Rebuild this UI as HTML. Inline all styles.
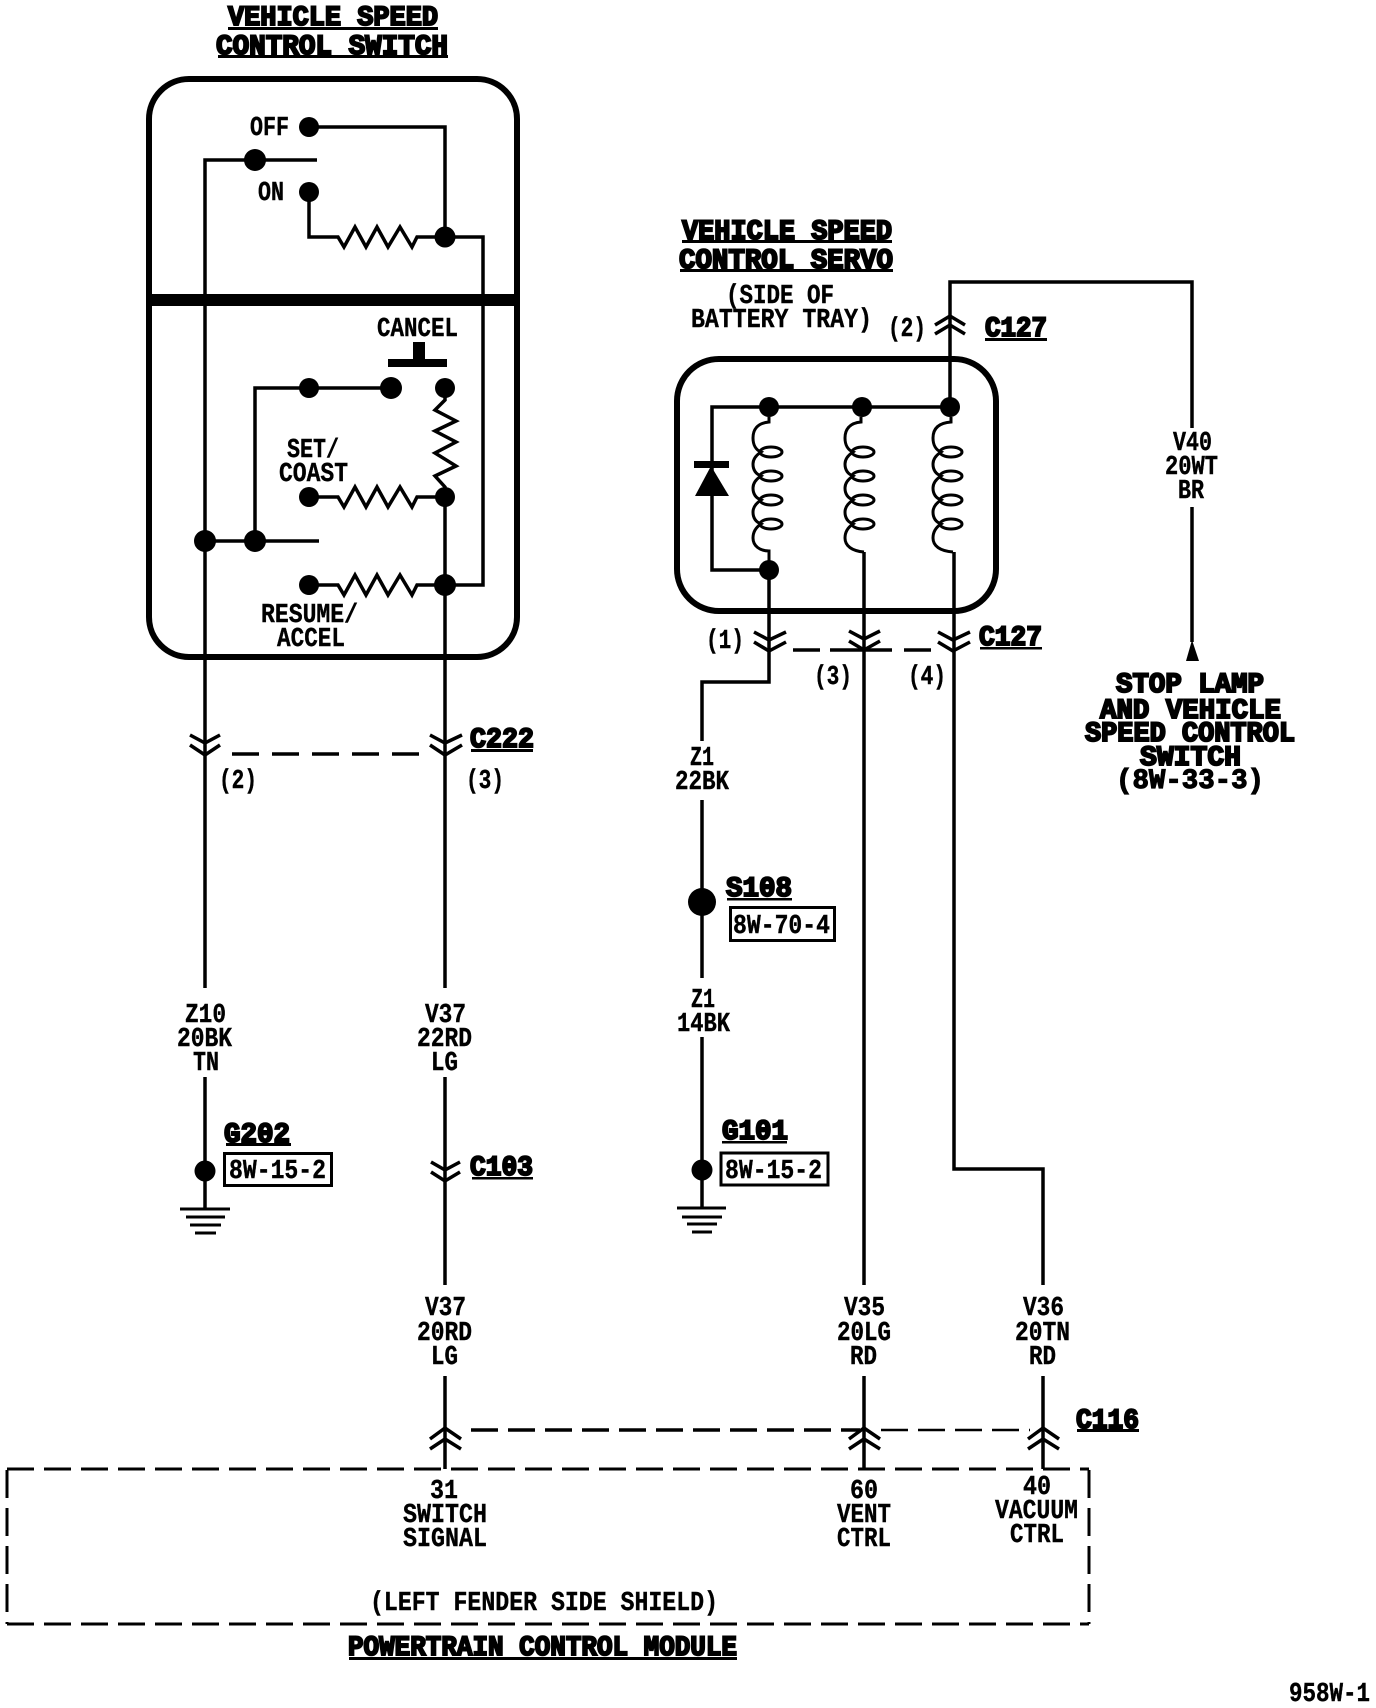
<!DOCTYPE html>
<html>
<head>
<meta charset="utf-8">
<style>
html,body{margin:0;padding:0;background:#fff}
svg{display:block}
.w{fill:none;stroke:#000;stroke-width:3.5;stroke-linejoin:miter}
.b{fill:none;stroke:#000;stroke-width:6}
.n{fill:#000}
text{font-family:"Liberation Mono","DejaVu Sans Mono",monospace;font-weight:bold;font-size:27px;fill:#000;stroke:#000;stroke-width:.4}
.h{font-size:28px;stroke-width:2}
</style>
</head>
<body>
<svg width="1376" height="1708" viewBox="0 0 1376 1708" xmlns="http://www.w3.org/2000/svg">
<rect width="1376" height="1708" fill="#fff"/>

<!-- switch box -->
<rect class="b" x="149" y="79" width="368" height="578" rx="40" ry="40"/>
<rect x="146" y="294" width="374" height="12" class="n"/>

<!-- switch wiring -->
<path class="w" d="M317 160H205V988"/>
<path class="w" d="M309 127H445V237"/>
<path class="w" d="M309 192V237H338L344 247L355 227L366 247L377 227L388 247L400 227L412 247L417 237H445H483V585H445"/>
<path class="w" d="M255 541V388H391"/>
<path class="w" d="M205 541H319"/>
<path class="w" d="M445 388V400L435 410L456 421L435 431L456 442L435 453L456 466L435 476L445 487V988"/>
<path class="w" d="M309 497H338L344 507L355 487L366 507L377 487L388 507L400 487L412 507L417 497H445"/>
<path class="w" d="M309 585H338L344 595L355 575L366 595L377 575L388 595L400 575L412 595L417 585H445"/>
<g class="n">
<circle cx="255" cy="160" r="11"/><circle cx="309" cy="127" r="10"/><circle cx="309" cy="192" r="10"/><circle cx="445" cy="237" r="10.500"/>
<circle cx="309" cy="388" r="10"/><circle cx="391" cy="388" r="11"/><circle cx="445" cy="388" r="10"/>
<circle cx="205" cy="541" r="11"/><circle cx="255" cy="541" r="11"/>
<circle cx="309" cy="497" r="10"/><circle cx="445" cy="497" r="10"/>
<circle cx="309" cy="585" r="10"/><circle cx="445" cy="585" r="11"/>
<rect x="413" y="342" width="12" height="18"/><rect x="388" y="359" width="59" height="8"/>
</g>

<!-- C222 -->
<path class="w" d="M190 735L205 743L220 735M190 745L205 755L220 745"/>
<path class="w" d="M430 735L445 743L462 735M430 745L445 755L462 745"/>
<path class="w" stroke-dasharray="27 13" d="M232 754H422"/>

<!-- left lower wires -->
<path class="w" d="M205 1077V1209"/>
<circle class="n" cx="205" cy="1171" r="10.500"/>
<path class="w" style="stroke-width:3" d="M180 1209H230M186 1217H225M190 1225H221M195 1233H216"/>
<path class="w" d="M445 1077V1285M445 1376V1469"/>
<path class="w" d="M431 1162L445 1170L460 1162M431 1172L445 1181L460 1172"/>
<rect x="224.500" y="1153.500" width="107" height="32" fill="none" stroke="#000" stroke-width="3"/>

<!-- servo box -->
<rect class="b" x="677" y="359" width="319" height="252" rx="42" ry="42"/>
<path class="w" d="M950 407H712V570H769"/>
<path class="w" d="M950 407V282H1192V428M1192 507V642"/>
<path class="n" d="M1192 640L1199 661H1186Z"/>
<g class="n">
<circle cx="769" cy="407" r="10"/><circle cx="862" cy="407" r="10"/><circle cx="950" cy="407" r="10"/><circle cx="769" cy="570" r="10"/>
<rect x="694" y="461" width="35" height="7"/><path d="M711 466L729 496H695Z"/>
</g>

<!-- coils -->
<g fill="none" stroke="#000" stroke-width="3">
<path d="M769 417V422C757 423 753 430 753 438C753 445 756 450 761 452C755 456 753 460 753 464C753 470 756 474 761 476C755 480 753 484 753 488C753 494 756 498 761 500C755 504 753 508 753 512C753 518 756 522 761 524C755 528 753 533 753 538C753 546 760 551 769 551V570"/>
<ellipse cx="771" cy="452" rx="11" ry="5"/><ellipse cx="771" cy="476" rx="11" ry="5"/><ellipse cx="771" cy="500" rx="11" ry="5"/><ellipse cx="771" cy="524" rx="11" ry="5"/>
</g>
<g fill="none" stroke="#000" stroke-width="3" transform="translate(92 0)">
<path d="M769 417V422C757 423 753 430 753 438C753 445 756 450 761 452C755 456 753 460 753 464C753 470 756 474 761 476C755 480 753 484 753 488C753 494 756 498 761 500C755 504 753 508 753 512C753 518 756 522 761 524C755 528 753 533 753 538C753 546 760 551 772 552"/>
<ellipse cx="771" cy="452" rx="11" ry="5"/><ellipse cx="771" cy="476" rx="11" ry="5"/><ellipse cx="771" cy="500" rx="11" ry="5"/><ellipse cx="771" cy="524" rx="11" ry="5"/>
</g>
<g fill="none" stroke="#000" stroke-width="3" transform="translate(180 0)">
<path d="M771 417V422C757 423 753 430 753 438C753 445 756 450 761 452C755 456 753 460 753 464C753 470 756 474 761 476C755 480 753 484 753 488C753 494 756 498 761 500C755 504 753 508 753 512C753 518 756 522 761 524C755 528 753 533 753 538C753 546 760 551 773 552"/>
<ellipse cx="771" cy="452" rx="11" ry="5"/><ellipse cx="771" cy="476" rx="11" ry="5"/><ellipse cx="771" cy="500" rx="11" ry="5"/><ellipse cx="771" cy="524" rx="11" ry="5"/>
</g>

<!-- servo lower wires -->
<path class="w" d="M769 570V682H702V741M702 800V978M702 1037V1208"/>
<path class="w" d="M864 552V1285M864 1376V1469"/>
<path class="w" d="M954 552V1169H1043V1285M1043 1376V1469"/>
<circle class="n" cx="702" cy="902" r="14"/>
<circle class="n" cx="702" cy="1170" r="10.500"/>
<path class="w" style="stroke-width:3" d="M677 1208H726M682 1217H722M687 1224H717M692 1232H712"/>
<rect x="730.500" y="907.500" width="104" height="33" fill="none" stroke="#000" stroke-width="3"/>
<rect x="721" y="1153" width="107" height="32" fill="none" stroke="#000" stroke-width="3"/>

<!-- C127 chevrons -->
<path class="w" d="M935 325L950 316L965 325M935 334L950 325L965 334"/>
<path class="w" d="M754 632L769 640L786 632M754 642L769 651L786 642"/>
<path class="w" d="M849 631L864 639L880 631M849 641L864 650L880 641"/>
<path class="w" d="M938 632L953 640L970 632M938 642L953 651L970 642"/>
<path class="w" d="M793 650H820M830 650H892M904 650H931"/>

<!-- C116 chevrons + module -->
<path class="w" d="M430 1439L445 1428L461 1439M430 1449L445 1439L461 1449"/>
<path class="w" d="M849 1439L864 1428L880 1439M849 1449L864 1439L880 1449"/>
<path class="w" d="M1028 1439L1043 1428L1059 1439M1028 1449L1043 1439L1059 1449"/>
<path class="w" stroke-dasharray="27 10" d="M471 1430H860"/>
<path class="w" style="stroke-width:2.500" stroke-dasharray="27 10" d="M881 1430H1030"/>
<path class="w" style="stroke-width:3" stroke-dasharray="27 10" d="M7 1469H1089"/>
<path class="w" style="stroke-width:3" stroke-dasharray="27 10" d="M7 1624H1089"/>
<path class="w" style="stroke-width:3" stroke-dasharray="28 10" d="M7 1470V1624M1089 1470V1624"/>

<!-- Titles -->
<text class="h" x="228" y="25" textLength="210" lengthAdjust="spacingAndGlyphs">VEHICLE SPEED</text>
<rect x="228" y="27" width="210" height="3" class="n"/>
<text class="h" x="216" y="54" textLength="232" lengthAdjust="spacingAndGlyphs">CONTROL SWITCH</text>
<rect x="218" y="55" width="230" height="3" class="n"/>

<text x="250" y="135" textLength="39" lengthAdjust="spacingAndGlyphs">OFF</text>
<text x="258" y="200" textLength="26" lengthAdjust="spacingAndGlyphs">ON</text>
<text x="377" y="336" textLength="81" lengthAdjust="spacingAndGlyphs">CANCEL</text>
<text x="287" y="457" textLength="52" lengthAdjust="spacingAndGlyphs">SET/</text>
<text x="279" y="481" textLength="69" lengthAdjust="spacingAndGlyphs">COAST</text>
<text x="261" y="622" textLength="97" lengthAdjust="spacingAndGlyphs">RESUME/</text>
<text x="277" y="646" textLength="68" lengthAdjust="spacingAndGlyphs">ACCEL</text>

<text x="219" y="788" textLength="38" lengthAdjust="spacingAndGlyphs">(2)</text>
<text x="466" y="788" textLength="38" lengthAdjust="spacingAndGlyphs">(3)</text>
<text class="h" x="470" y="747" textLength="64" lengthAdjust="spacingAndGlyphs">C222</text>
<rect x="471" y="749" width="62" height="3" class="n"/>

<text x="185" y="1022" textLength="41" lengthAdjust="spacingAndGlyphs">Z10</text>
<text x="177" y="1046" textLength="55" lengthAdjust="spacingAndGlyphs">20BK</text>
<text x="193" y="1070" textLength="26" lengthAdjust="spacingAndGlyphs">TN</text>
<text x="425" y="1022" textLength="41" lengthAdjust="spacingAndGlyphs">V37</text>
<text x="417" y="1046" textLength="55" lengthAdjust="spacingAndGlyphs">22RD</text>
<text x="431" y="1070" textLength="27" lengthAdjust="spacingAndGlyphs">LG</text>

<text class="h" x="224" y="1142" textLength="66" lengthAdjust="spacingAndGlyphs">G202</text>
<rect x="226" y="1143" width="65" height="3" class="n"/>
<text x="229" y="1178" textLength="97" lengthAdjust="spacingAndGlyphs">8W-15-2</text>
<text class="h" x="470" y="1175" textLength="63" lengthAdjust="spacingAndGlyphs">C103</text>
<rect x="472" y="1177" width="61" height="2.500" class="n"/>

<text x="425" y="1315" textLength="41" lengthAdjust="spacingAndGlyphs">V37</text>
<text x="417" y="1340" textLength="55" lengthAdjust="spacingAndGlyphs">20RD</text>
<text x="431" y="1364" textLength="27" lengthAdjust="spacingAndGlyphs">LG</text>
<text x="844" y="1315" textLength="41" lengthAdjust="spacingAndGlyphs">V35</text>
<text x="837" y="1340" textLength="54" lengthAdjust="spacingAndGlyphs">20LG</text>
<text x="850" y="1364" textLength="27" lengthAdjust="spacingAndGlyphs">RD</text>
<text x="1023" y="1315" textLength="41" lengthAdjust="spacingAndGlyphs">V36</text>
<text x="1015" y="1340" textLength="55" lengthAdjust="spacingAndGlyphs">20TN</text>
<text x="1029" y="1364" textLength="27" lengthAdjust="spacingAndGlyphs">RD</text>

<!-- servo text -->
<text class="h" x="682" y="239" textLength="210" lengthAdjust="spacingAndGlyphs">VEHICLE SPEED</text>
<rect x="682" y="240" width="210" height="3" class="n"/>
<text class="h" x="679" y="268" textLength="214" lengthAdjust="spacingAndGlyphs">CONTROL SERVO</text>
<rect x="680" y="269" width="213" height="3" class="n"/>
<text x="726" y="303" textLength="108" lengthAdjust="spacingAndGlyphs">(SIDE OF</text>
<text x="691" y="327" textLength="181" lengthAdjust="spacingAndGlyphs">BATTERY TRAY)</text>
<text x="888" y="336" textLength="38" lengthAdjust="spacingAndGlyphs">(2)</text>
<text class="h" x="985" y="336" textLength="62" lengthAdjust="spacingAndGlyphs">C127</text>
<rect x="985" y="338" width="62" height="3" class="n"/>
<text x="706" y="648" textLength="38" lengthAdjust="spacingAndGlyphs">(1)</text>
<text x="814" y="684" textLength="38" lengthAdjust="spacingAndGlyphs">(3)</text>
<text x="908" y="684" textLength="38" lengthAdjust="spacingAndGlyphs">(4)</text>
<text class="h" x="979" y="645" textLength="63" lengthAdjust="spacingAndGlyphs">C127</text>
<rect x="980" y="647" width="62" height="2.500" class="n"/>

<text x="1173" y="450" textLength="39" lengthAdjust="spacingAndGlyphs">V40</text>
<text x="1165" y="474" textLength="53" lengthAdjust="spacingAndGlyphs">20WT</text>
<text x="1178" y="498" textLength="26" lengthAdjust="spacingAndGlyphs">BR</text>

<text class="h" x="1116" y="692" textLength="148" lengthAdjust="spacingAndGlyphs">STOP LAMP</text>
<text class="h" x="1100" y="718" textLength="181" lengthAdjust="spacingAndGlyphs">AND VEHICLE</text>
<text class="h" x="1085" y="741" textLength="210" lengthAdjust="spacingAndGlyphs">SPEED CONTROL</text>
<text class="h" x="1140" y="765" textLength="101" lengthAdjust="spacingAndGlyphs">SWITCH</text>
<text class="h" style="stroke-width:1.200" x="1116" y="788" textLength="148" lengthAdjust="spacingAndGlyphs">(8W-33-3)</text>

<text x="690" y="765" textLength="24" lengthAdjust="spacingAndGlyphs">Z1</text>
<text x="675" y="789" textLength="54" lengthAdjust="spacingAndGlyphs">22BK</text>
<text class="h" x="726" y="896" textLength="66" lengthAdjust="spacingAndGlyphs">S108</text>
<rect x="727" y="898" width="65" height="2.500" class="n"/>
<text x="733" y="933" textLength="97" lengthAdjust="spacingAndGlyphs">8W-70-4</text>
<text x="691" y="1007" textLength="24" lengthAdjust="spacingAndGlyphs">Z1</text>
<text x="677" y="1031" textLength="53" lengthAdjust="spacingAndGlyphs">14BK</text>
<text class="h" x="722" y="1139" textLength="66" lengthAdjust="spacingAndGlyphs">G101</text>
<rect x="722" y="1141" width="65" height="2.500" class="n"/>
<text x="725" y="1178" textLength="97" lengthAdjust="spacingAndGlyphs">8W-15-2</text>

<!-- C116 + module text -->
<text class="h" x="1076" y="1428" textLength="63" lengthAdjust="spacingAndGlyphs">C116</text>
<rect x="1077" y="1429" width="62" height="3" class="n"/>
<text x="430" y="1498" textLength="28" lengthAdjust="spacingAndGlyphs">31</text>
<text x="403" y="1522" textLength="84" lengthAdjust="spacingAndGlyphs">SWITCH</text>
<text x="403" y="1546" textLength="84" lengthAdjust="spacingAndGlyphs">SIGNAL</text>
<text x="850" y="1498" textLength="28" lengthAdjust="spacingAndGlyphs">60</text>
<text x="837" y="1522" textLength="54" lengthAdjust="spacingAndGlyphs">VENT</text>
<text x="837" y="1546" textLength="54" lengthAdjust="spacingAndGlyphs">CTRL</text>
<text x="1023" y="1494" textLength="28" lengthAdjust="spacingAndGlyphs">40</text>
<text x="995" y="1518" textLength="83" lengthAdjust="spacingAndGlyphs">VACUUM</text>
<text x="1010" y="1542" textLength="54" lengthAdjust="spacingAndGlyphs">CTRL</text>
<text x="370" y="1610" textLength="348" lengthAdjust="spacingAndGlyphs">(LEFT FENDER SIDE SHIELD)</text>
<text class="h" x="348" y="1655" textLength="389" lengthAdjust="spacingAndGlyphs">POWERTRAIN CONTROL MODULE</text>
<rect x="349" y="1657" width="388" height="3" class="n"/>
<text x="1289" y="1701" textLength="81" lengthAdjust="spacingAndGlyphs">958W-1</text>
</svg>
</body>
</html>
